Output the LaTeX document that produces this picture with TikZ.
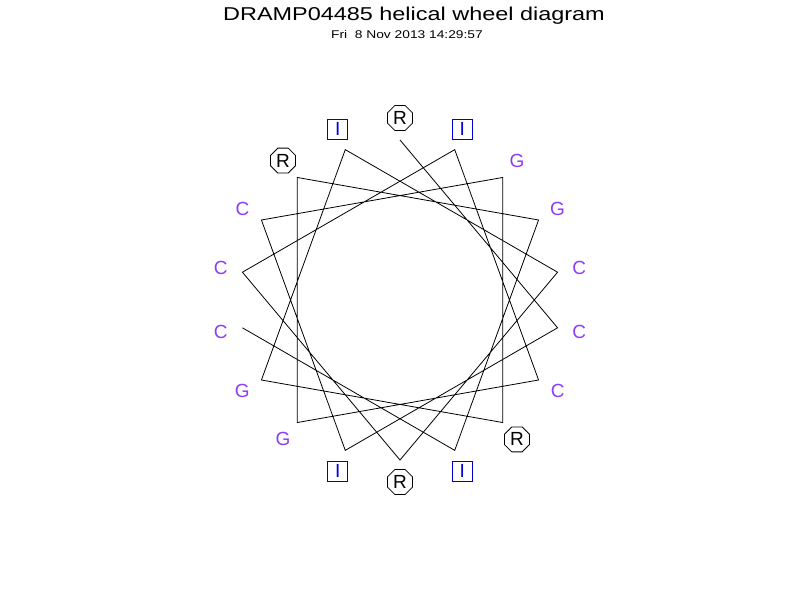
\documentclass[tikz,border=0pt]{standalone}
\usepackage{fontspec}
\setmainfont{Liberation Sans}
\usetikzlibrary{shapes.geometric}
\definecolor{hydblue}{RGB}{0,0,220}
\definecolor{neupurple}{RGB}{140,60,245}

\begin{document}
\begin{tikzpicture}[x=1pt, y=1pt, line width=0.8pt,
    every node/.style = {font=\fontsize{19}{19}\selectfont, inner sep=0pt},
    hydres/.style = {draw=hydblue, text=hydblue, rectangle, minimum size=20pt},
    chgres/.style = {draw, regular polygon, regular polygon sides=8, minimum size=27pt},
    neures/.style = {text=neupurple}
    ]
    \useasboundingbox (-400,-300) rectangle (400,300);
    % title
    \node[anchor=base] (title) at (14,279) {\scalebox{1.26}[1]{\fontsize{18.6}{18.6}\selectfont DRAMP04485 helical wheel diagram}};
    \node[anchor=base] (date) at (7,261) {\scalebox{1.23}[1]{\fontsize{11.2}{11.2}\selectfont Fri\ \ 8 Nov 2013 14:29:57}};
    % residues, 100 degrees apart
    \foreach \res/\kind [count=\i from 0] in {R/chgres, C/neures, I/hydres, C/neures, G/neures, R/chgres, G/neures, I/hydres, C/neures, R/chgres, C/neures, I/hydres, C/neures, G/neures, R/chgres, G/neures, I/hydres, C/neures} {
        \coordinate (v\i) at ({90-100*\i}:160);
        \node[\kind] (r\i) at ({90-100*\i}:182) {\res};
    }
    % wheel
    \draw (v0) \foreach \i in {1,...,17} { -- (v\i) };
\end{tikzpicture}
\end{document}
